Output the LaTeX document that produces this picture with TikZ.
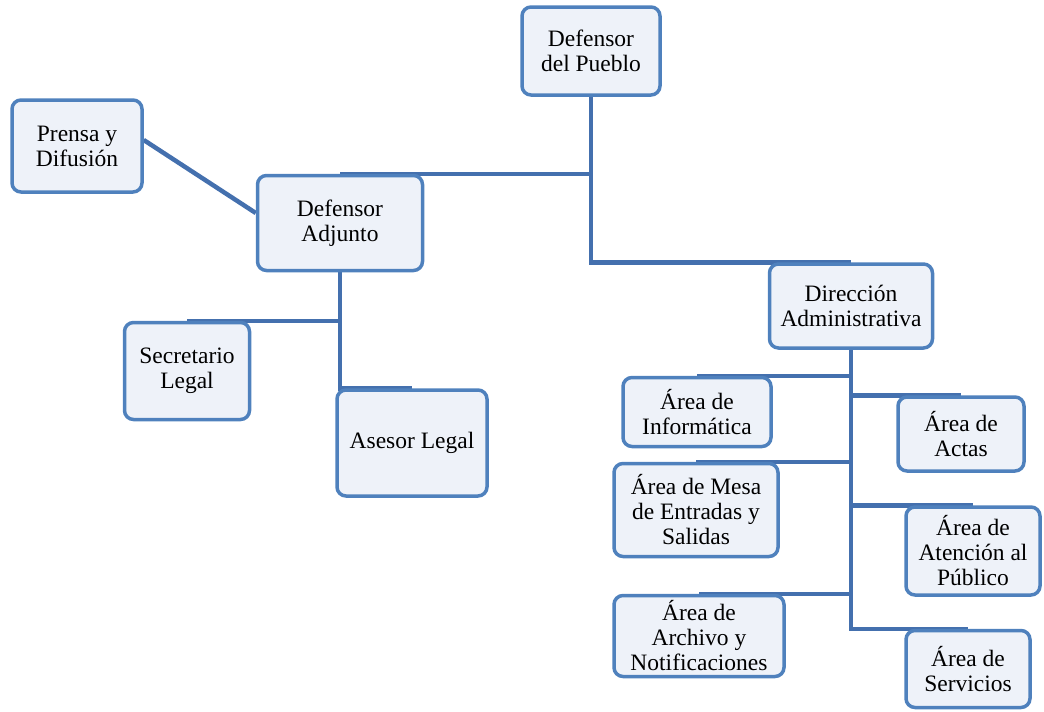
\documentclass[tikz,border=0pt]{standalone}
\usepackage{fontspec}
\setmainfont{Liberation Serif}
\usetikzlibrary{backgrounds}

\definecolor{boxline}{HTML}{4F81BD}
\definecolor{boxfill}{HTML}{EEF2F9}
\definecolor{linkline}{HTML}{4470AE}

\begin{document}
\begin{tikzpicture}[x=1pt,y=-1pt,
  unit/.style={draw=boxline, line width=3.5pt, fill=boxfill, rounded corners=9pt,
    align=center, inner sep=2pt, font=\fontsize{23.5}{25}\selectfont},
  link/.style={draw=linkline, line width=4.5pt}]
  \useasboundingbox (0,0) rectangle (1044,712);
  % top
  \node[unit, minimum width=138pt, minimum height=88pt] (pueblo) at (591,51) {Defensor\\del Pueblo};
  \node[unit, minimum width=130pt, minimum height=92pt] (prensa) at (77,146) {Prensa y\\Difusión};
  \node[unit, minimum width=165pt, minimum height=95pt] (adjunto) at (340,223) {Defensor\\Adjunto};
  \node[unit, minimum width=163pt, minimum height=84pt] (direccion) at (851,306) {Dirección\\Administrativa};
  % adjunto branch
  \node[unit, minimum width=125pt, minimum height=97pt] (secretario) at (187,371) {Secretario\\Legal};
  \node[unit, minimum width=150pt, minimum height=106pt] (asesor) at (412,443) {Asesor Legal};
  % direccion branch
  \node[unit, minimum width=148pt, minimum height=69pt] (informatica) at (697,412) {Área de\\Informática};
  \node[unit, minimum width=126pt, minimum height=74pt] (actas) at (961,434) {Área de\\Actas};
  \node[unit, minimum width=164pt, minimum height=93pt] (mesa) at (696,510) {Área de Mesa\\de Entradas y\\Salidas};
  \node[unit, minimum width=134pt, minimum height=88pt] (atencion) at (973,551) {Área de\\Atención al\\Público};
  \node[unit, minimum width=170pt, minimum height=81pt] (archivo) at (699,636) {Área de\\Archivo y\\Notificaciones};
  \node[unit, minimum width=124pt, minimum height=77pt] (servicios) at (968,669) {Área de\\Servicios};
  % connectors
  \begin{scope}[on background layer]
    \draw[link] (pueblo.south) |- (adjunto.north);
    \draw[link] (pueblo.south) |- (direccion.north);
    \draw[link] ([yshift=6pt]prensa.east) -- ([yshift=10pt]adjunto.west);
    \draw[link] (adjunto.south) |- (secretario.north);
    \draw[link] (adjunto.south) |- (asesor.north);
    \foreach \area in {informatica,actas,mesa,atencion,archivo,servicios}
      \draw[link] (direccion.south) |- (\area.north);
  \end{scope}
\end{tikzpicture}
\end{document}
